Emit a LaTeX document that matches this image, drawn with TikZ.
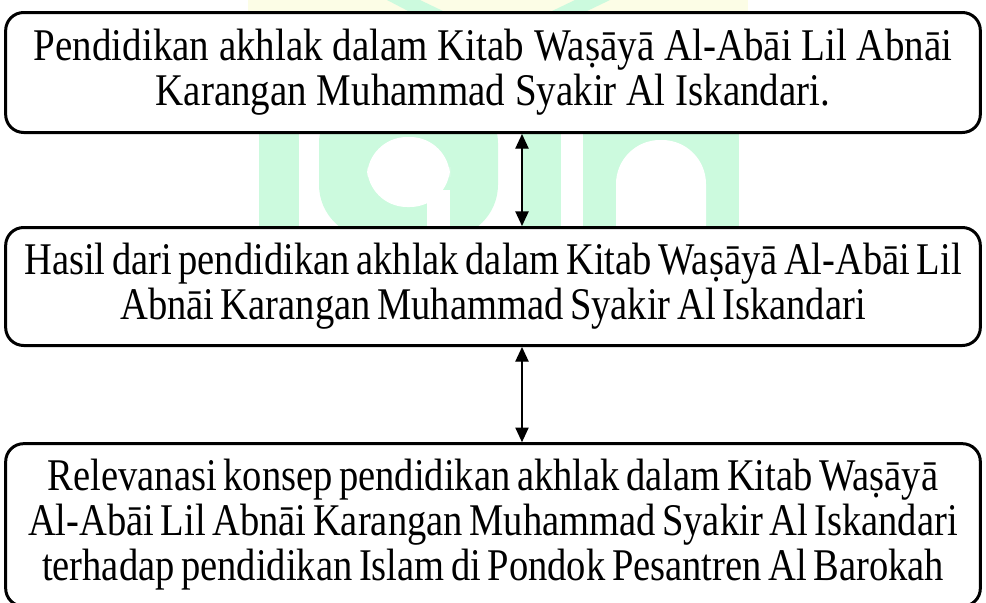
\documentclass[tikz,border=0pt]{standalone}
\usepackage{fontspec}
\setmainfont[FakeStretch=0.86]{Liberation Serif}
\newfontfamily\rapat[FakeStretch=0.85,WordSpace=0.68]{Liberation Serif}
\usetikzlibrary{arrows.meta}
\definecolor{wmhijau}{RGB}{204,250,222}
\definecolor{wmkuning}{RGB}{252,253,230}
\begin{document}
\begin{tikzpicture}[x=0.75pt,y=0.75pt,yscale=-1,xscale=1,
  kotak/.style={draw, fill=white, line width=2.25pt, rounded corners=13.5pt, minimum width=731pt, align=center, inner sep=0pt, font=\fontsize{34}{33.75}\selectfont},
  kotakrapat/.style={kotak, font=\rapat\fontsize{34}{33.75}\selectfont},
  panah/.style={{Triangle[length=11pt,width=10pt]}-{Triangle[length=11pt,width=10pt]}, line width=1pt}]
\useasboundingbox (0,0) rectangle (986,603);

%Watermark top
\fill [wmkuning] (248,0) rectangle (748,12) ;
\fill [wmhijau] (387,0) -- (420,0) -- (445,12) -- (410,12) -- cycle ;
\fill [wmhijau] (575,0) -- (610,0) -- (585,12) -- (550,12) -- cycle ;
%Watermark letters
\fill [wmhijau] (259,100) rectangle (299,240) ;
\fill [wmhijau, rounded corners=40pt] (319,90) rectangle (498,238) ;
\fill [white, rounded corners=30pt] (367,137) rectangle (450,207) ;
\fill [white] (427,190) rectangle (450,240) ;
\fill [wmhijau] (521,100) rectangle (561,240) ;
\fill [wmhijau] (583,100) rectangle (739,240) ;
\fill [white, rounded corners=33pt] (616,140) rectangle (706,300) ;

% Text Node
\node [kotak, minimum height=90pt] (pendidikan) at (493,72.5) {Pendidikan akhlak dalam Kitab Waṣāyā Al-Abāi Lil Abnāi\\Karangan Muhammad Syakir Al Iskandari.};
% Text Node
\node [kotakrapat, minimum height=88.5pt] (hasil) at (493,286.5) {Hasil dari pendidikan akhlak dalam Kitab Waṣāyā Al-Abāi Lil\\Abnāi Karangan Muhammad Syakir Al Iskandari};
% Text Node
\node [kotakrapat, minimum height=122pt] (relevansi) at (493,525) {Relevanasi konsep pendidikan akhlak dalam Kitab Waṣāyā\\Al-Abāi Lil Abnāi Karangan Muhammad Syakir Al Iskandari\\terhadap pendidikan Islam di Pondok Pesantren Al Barokah};

%Straight Lines
\draw [panah] ([xshift=21.75pt]pendidikan.south) -- ([xshift=21.75pt]hasil.north) ;
\draw [panah] ([xshift=21.75pt]hasil.south) -- ([xshift=21.75pt]relevansi.north) ;

\end{tikzpicture}
\end{document}
